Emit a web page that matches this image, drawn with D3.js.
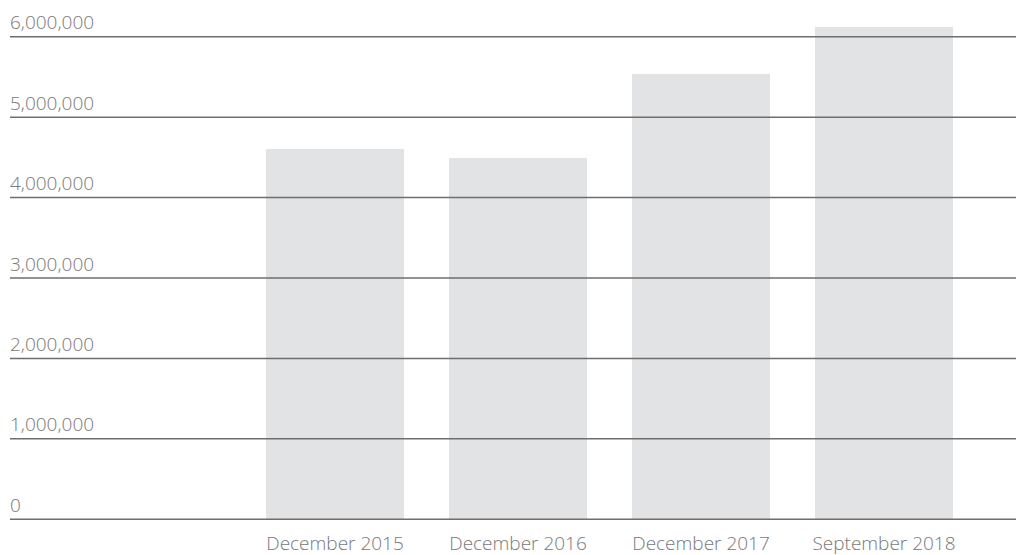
<!DOCTYPE html>
<html>
<head>
<meta charset="utf-8">
<script src="https://cdn.jsdelivr.net/npm/d3@7"></script>
<style>
  html, body { margin: 0; padding: 0; background: #ffffff; }
  svg { display: block; }
  text { font-family: "Open Sans", "Noto Sans", sans-serif; font-weight: 300; fill: #787878; }
</style>
</head>
<body>
<svg id="chart" width="1018" height="555"></svg>
<script>
// Periods shown on the category axis
const periods = ["December 2015", "December 2016", "December 2017", "September 2018"];
// Totals for each period
const totals = [4604000, 4492000, 5537000, 6121000];
// Value-axis ticks
const yTicks = [0, 1000000, 2000000, 3000000, 4000000, 5000000, 6000000];

const svg = d3.select("#chart");

const x = d3.scaleBand()
  .domain(periods)
  .range([243.5, 975.5])
  .paddingInner(0.246)
  .paddingOuter(0.123);

const y = d3.scaleLinear()
  .domain([0, 6000000])
  .range([519.3, 36.7]);

const fmt = d3.format(",");

// Bars
svg.append("g")
  .selectAll("rect")
  .data(periods)
  .join("rect")
  .attr("x", d => x(d))
  .attr("width", x.bandwidth())
  .attr("y", (d, i) => y(totals[i]))
  .attr("height", (d, i) => y(0) - y(totals[i]))
  .attr("fill", "#e2e3e5");

// Horizontal gridlines with labels sitting above them
const grid = svg.append("g")
  .selectAll("g")
  .data(yTicks)
  .join("g")
  .attr("transform", d => `translate(0,${y(d)})`);

grid.append("line")
  .attr("x1", 10)
  .attr("x2", 1016)
  .attr("stroke", "#6e6e6e")
  .attr("stroke-width", 1.5);

grid.append("text")
  .attr("x", 10)
  .attr("y", -7.5)
  .attr("font-size", 19)
  .text(d => fmt(d));

// Category labels
svg.append("g")
  .selectAll("text")
  .data(periods)
  .join("text")
  .attr("x", d => x(d) + x.bandwidth() / 2)
  .attr("y", 550)
  .attr("text-anchor", "middle")
  .attr("font-size", 19)
  .text(d => d);
</script>
</body>
</html>
